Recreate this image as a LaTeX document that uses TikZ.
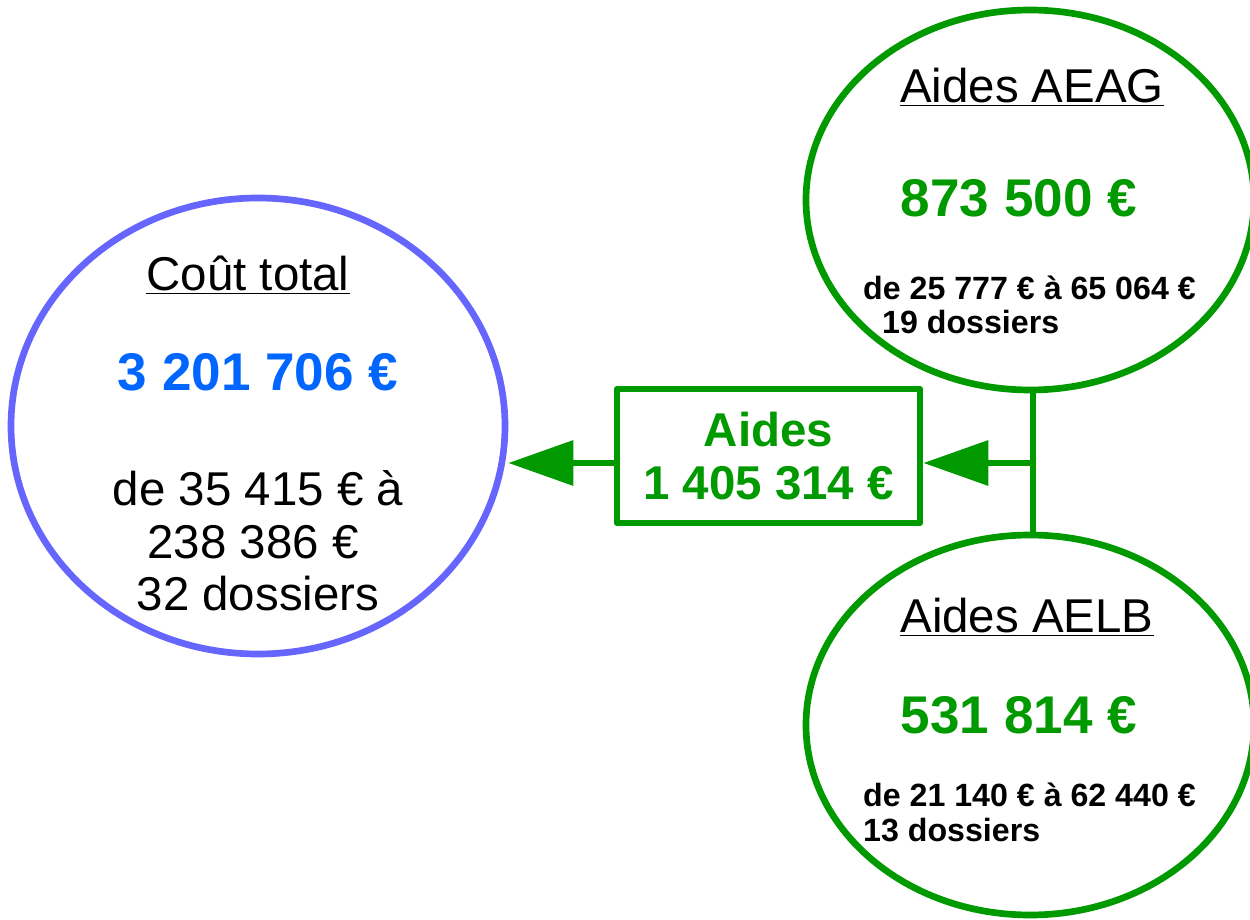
\documentclass[tikz,border=0pt]{standalone}
\usepackage{fontspec}
\setmainfont{Liberation Sans}
\usetikzlibrary{shapes.geometric,arrows.meta}
\definecolor{aidegreen}{HTML}{009900}
\definecolor{costblue}{HTML}{6666FF}
\definecolor{sumblue}{HTML}{0066FF}
\begin{document}
\begin{tikzpicture}[
  bubble/.style={ellipse, draw, line width=3.8pt, inner sep=0pt},
  flow/.style={line width=3.8pt, aidegreen, -{Triangle[length=1.3cm,width=0.88cm]}},
  big/.style={font=\fontsize{27}{30}\selectfont},
  bigbold/.style={font=\fontsize{30.2}{34}\selectfont\bfseries},
  small/.style={font=\fontsize{18.3}{19.5}\selectfont\bfseries, align=left}
]
\useasboundingbox (0,0) rectangle (25,18.38);

% Total cost (left circle)
\node[bubble, costblue, minimum width=9.88cm, minimum height=9.12cm] (cost) at (5.16,9.86) {};
\node[big] (costtitle) at (4.96,12.88) {\underline{Coût total}};
\node[bigbold, sumblue] (costsum) at (5.16,10.94) {3 201 706 €};
\node[big, align=center] (costrange) at (5.16,7.56) {de 35 415 € à\\238 386 €\kern0.2cm\\32 dossiers};

% AEAG aid (top right circle)
\node[bubble, aidegreen, minimum width=8.96cm, minimum height=7.6cm] (aeag) at (20.6,14.38) {};
\node[big] (aeagtitle) at (20.64,16.64) {\underline{Aides AEAG}};
\node[bigbold, aidegreen] (aeagsum) at (20.38,14.42) {873 500 €};
\node[small, anchor=west] (aeagrange) at (17.14,12.28) {de 25 777 € à 65 064 €\\\hspace{0.38cm}19 dossiers};

% AELB aid (bottom right circle)
\node[bubble, aidegreen, minimum width=8.96cm, minimum height=7.6cm] (aelb) at (20.6,3.88) {};
\node[big] (aelbtitle) at (20.54,6.04) {\underline{Aides AELB}};
\node[bigbold, aidegreen] (aelbsum) at (20.38,4.08) {531 814 €};
\node[small, anchor=west] (aelbrange) at (17.14,2.13) {de 21 140 € à 62 440 €\\13 dossiers};

% Total aid (box)
\node[draw, aidegreen, line width=3.8pt, line join=round, minimum width=6.06cm, minimum height=2.68cm,
      align=center, font=\fontsize{27}{30.6}\selectfont\bfseries] (aides) at (15.37,9.26) {Aides\\1 405 314 €};

% Connectors
\coordinate (join) at (20.66,9.12);
\draw[line width=3.8pt, aidegreen] (aeag.south -| join) -- (aelb.north -| join);
\draw[flow] (join) -- (aides.east |- join);
\draw[flow] (aides.west |- join) -- (cost.east |- join);

\end{tikzpicture}
\end{document}
